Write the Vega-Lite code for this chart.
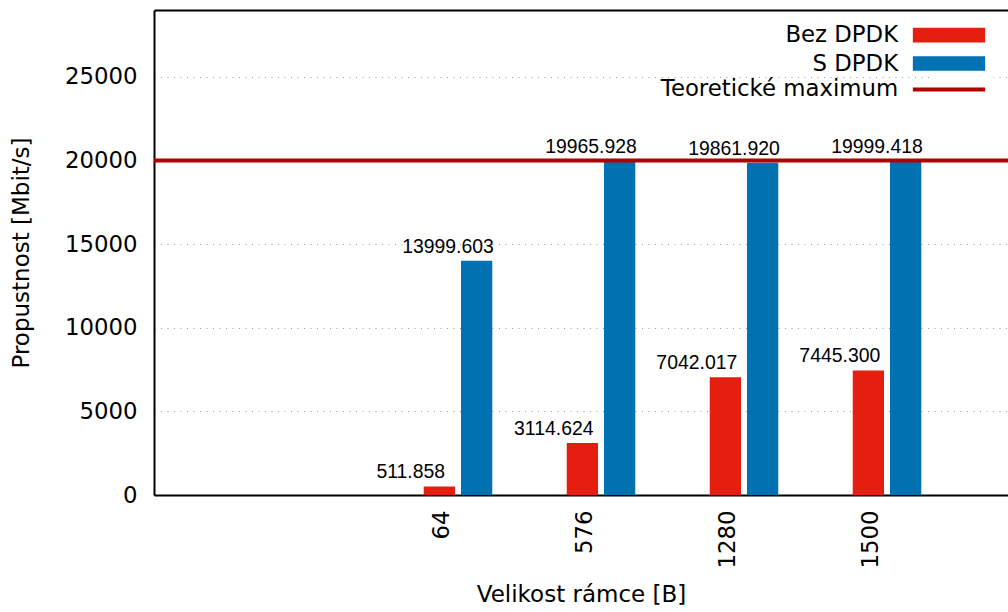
{
  "$schema": "https://vega.github.io/schema/vega-lite/v6.json",
  "width": 854,
  "height": 485,
  "autosize": {"type": "none"},
  "padding": {"left": 154, "top": 10, "right": 0, "bottom": 117},
  "background": "white",
  "config": {
    "view": {"stroke": null},
    "font": "DejaVu Sans",
    "legend": {"padding": 0}
  },
  "datasets": {
    "propustnost": [
      {"ramec": "64", "serie": "Bez DPDK", "hodnota": 511.858},
      {"ramec": "64", "serie": "S DPDK", "hodnota": 13999.603},
      {"ramec": "576", "serie": "Bez DPDK", "hodnota": 3114.624},
      {"ramec": "576", "serie": "S DPDK", "hodnota": 19965.928},
      {"ramec": "1280", "serie": "Bez DPDK", "hodnota": 7042.017},
      {"ramec": "1280", "serie": "S DPDK", "hodnota": 19861.92},
      {"ramec": "1500", "serie": "Bez DPDK", "hodnota": 7445.3},
      {"ramec": "1500", "serie": "S DPDK", "hodnota": 19999.418}
    ],
    "maximum": [
      {"typ": "Teoretické maximum", "hodnota": 20000}
    ]
  },
  "layer": [
    {
      "data": {"name": "propustnost"},
      "mark": {"type": "bar"},
      "encoding": {
        "x": {
          "field": "ramec",
          "type": "ordinal",
          "sort": ["64", "576", "1280", "1500"],
          "scale": {"paddingInner": 0, "paddingOuter": 0.986, "align": 0.8245},
          "axis": {
            "orient": "bottom",
            "labelAngle": -90,
            "labelFont": "DejaVu Sans",
            "labelFontSize": 22.8,
            "labelColor": "black",
            "labelPadding": 15,
            "labelOffset": -16,
            "ticks": false,
            "tickSize": 0,
            "grid": false,
            "domainColor": "black",
            "domainWidth": 2,
            "title": "Velikost rámce [B]",
            "titleFont": "DejaVu Sans",
            "titleFontSize": 23,
            "titleFontWeight": "normal",
            "titleColor": "black",
            "titleBaseline": "top",
            "titleY": 88
          }
        },
        "xOffset": {
          "field": "serie",
          "type": "nominal",
          "scale": {"domain": ["Bez DPDK", "S DPDK"], "paddingInner": 0.16, "paddingOuter": 1.083}
        },
        "y": {
          "field": "hodnota",
          "type": "quantitative",
          "scale": {"domain": [0, 29000], "nice": false},
          "axis": {
            "values": [0, 5000, 10000, 15000, 20000, 25000],
            "format": "d",
            "labelFont": "DejaVu Sans",
            "labelFontSize": 22.8,
            "labelColor": "black",
            "labelPadding": 17,
            "ticks": false,
            "tickSize": 0,
            "domainColor": "black",
            "domainWidth": 2,
            "grid": true,
            "gridColor": "#999999",
            "gridDash": [1, 5.5],
            "gridWidth": 1,
            "title": "Propustnost [Mbit/s]",
            "titleFont": "DejaVu Sans",
            "titleFontSize": 23,
            "titleFontWeight": "normal",
            "titleColor": "black",
            "titleX": -121
          }
        },
        "color": {
          "field": "serie",
          "type": "nominal",
          "scale": {"domain": ["Bez DPDK", "S DPDK"], "range": ["#e51e10", "#0072b2"]},
          "legend": {
            "title": null,
            "orient": "none",
            "legendX": 775.6,
            "legendY": 5.7,
            "padding": 8,
            "fillColor": "white",
            "symbolType": "M-4.92,-1H4.92V1H-4.92Z",
            "symbolSize": 216,
            "symbolStrokeWidth": 0,
            "symbolOpacity": 1,
            "labelAlign": "right",
            "labelOffset": -62.3,
            "labelFont": "DejaVu Sans",
            "labelFontSize": 22.8,
            "labelColor": "black",
            "labelLimit": 0,
            "rowPadding": 4.4
          }
        }
      }
    },
    {
      "data": {"name": "propustnost"},
      "mark": {"type": "text", "font": "Liberation Sans", "fontSize": 19.4, "color": "black", "baseline": "alphabetic", "align": "center", "dx": -28.6, "dy": -8},
      "encoding": {
        "x": {
          "field": "ramec",
          "type": "ordinal",
          "sort": ["64", "576", "1280", "1500"],
          "axis": {"orient": "top", "labels": false, "ticks": false, "title": null, "grid": false, "domainColor": "black", "domainWidth": 2}
        },
        "xOffset": {"field": "serie", "type": "nominal"},
        "y": {"field": "hodnota", "type": "quantitative"},
        "text": {"field": "hodnota", "type": "quantitative", "format": ".3f"}
      }
    },
    {
      "data": {"name": "maximum"},
      "mark": {"type": "rule", "strokeWidth": 4},
      "encoding": {
        "y": {"field": "hodnota", "type": "quantitative"},
        "color": {
          "field": "typ",
          "type": "nominal",
          "scale": {"range": ["#b00000"]},
          "legend": {
            "title": null,
            "orient": "none",
            "legendX": 783.6,
            "legendY": 68,
            "symbolType": "M-4.92,0H4.92",
            "symbolSize": 216,
            "symbolStrokeWidth": 4,
            "labelAlign": "right",
            "labelOffset": -62.3,
            "labelFont": "DejaVu Sans",
            "labelFontSize": 22.8,
            "labelColor": "black",
            "labelLimit": 0
          }
        }
      }
    }
  ],
  "resolve": {"scale": {"color": "independent"}, "axis": {"x": "independent"}}
}
